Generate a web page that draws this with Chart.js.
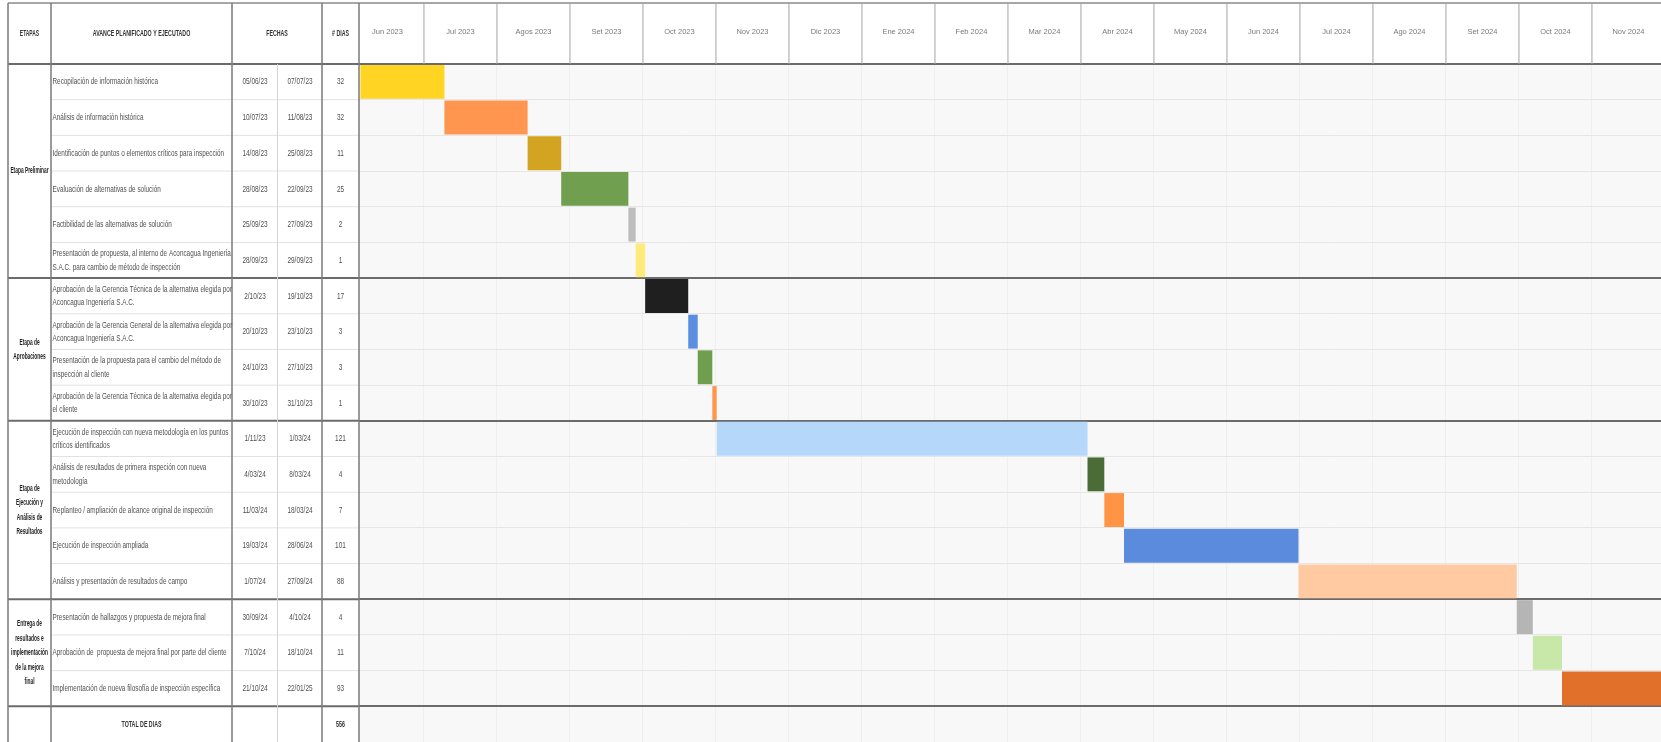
<!DOCTYPE html>
<html>
<head>
<meta charset="utf-8">
<script src="https://cdn.jsdelivr.net/npm/chart.js@4.4.1/dist/chart.umd.min.js"></script>
<style>
  html, body { margin: 0; padding: 0; background: #fff; overflow: hidden; }
</style>
</head>
<body>
<canvas id="gantt" width="1661" height="742"></canvas>
<script>
// --- DATA ---
const months = ['Jun 2023', 'Jul 2023', 'Agos 2023', 'Set 2023', 'Oct 2023', 'Nov 2023', 'Dic 2023', 'Ene 2024',
  'Feb 2024', 'Mar 2024', 'Abr 2024', 'May 2024', 'Jun 2024', 'Jul 2024', 'Ago 2024', 'Set 2024', 'Oct 2024', 'Nov 2024'];

const tasks = [
  ['Recopilación de información histórica'],
  ['Análisis de información histórica'],
  ['Identificación de puntos o elementos críticos para inspección'],
  ['Evaluación de alternativas de solución'],
  ['Factibilidad de las alternativas de solución'],
  ['Presentación de propuesta, al interno de Aconcagua Ingeniería', 'S.A.C. para cambio de método de inspección'],
  ['Aprobación de la Gerencia Técnica de la alternativa elegida por', 'Aconcagua Ingeniería S.A.C.'],
  ['Aprobación de la Gerencia General de la alternativa elegida por', 'Aconcagua Ingeniería S.A.C.'],
  ['Presentación de la propuesta para el cambio del método de', 'inspección al cliente'],
  ['Aprobación de la Gerencia Técnica de la alternativa elegida por', 'el cliente'],
  ['Ejecución de inspección con nueva metodología en los puntos', 'críticos identificados'],
  ['Análisis de resultados de primera inspeción con nueva', 'metodología'],
  ['Replanteo / ampliación de alcance original de inspección'],
  ['Ejecución de inspección ampliada'],
  ['Análisis y presentación de resultados de campo'],
  ['Presentación de hallazgos y propuesta de mejora final'],
  ['Aprobación de  propuesta de mejora final por parte del cliente'],
  ['Implementación de nueva filosofía de inspección específica']
];

const startDates = ['05/06/23', '10/07/23', '14/08/23', '28/08/23', '25/09/23', '28/09/23', '2/10/23', '20/10/23', '24/10/23',
  '30/10/23', '1/11/23', '4/03/24', '11/03/24', '19/03/24', '1/07/24', '30/09/24', '7/10/24', '21/10/24'];
const endDates = ['07/07/23', '11/08/23', '25/08/23', '22/09/23', '27/09/23', '29/09/23', '19/10/23', '23/10/23', '27/10/23',
  '31/10/23', '1/03/24', '8/03/24', '18/03/24', '28/06/24', '27/09/24', '4/10/24', '18/10/24', '22/01/25'];
const days = [32, 32, 11, 25, 2, 1, 17, 3, 3, 1, 121, 4, 7, 101, 88, 4, 11, 93];
const totalLabel = 'TOTAL DE DIAS';
const totalDays = 556;

// bar extent, in months counted from the start of Jun 2023 (as drawn on the sheet)
const barStart = [0.13, 1.28, 2.42, 2.88, 3.80, 3.90, 4.03, 4.62, 4.75, 4.95, 5.01, 10.09, 10.32, 10.59, 12.98, 15.97, 16.19, 16.59];
const barEnd   = [1.28, 2.42, 2.88, 3.80, 3.90, 4.03, 4.62, 4.75, 4.95, 5.01, 10.09, 10.32, 10.59, 12.98, 15.97, 16.19, 16.59, 19.7];
const barColors = ['#ffd422', '#ff9650', '#d3a322', '#70a04f', '#bdbdbd', '#ffeb7c', '#1f1f1f', '#5b8ee0', '#6f9f4e',
  '#ff9650', '#b5d8fa', '#4b6c36', '#ff9444', '#5b8bdc', '#ffc9a1', '#b5b5b5', '#c8e8a9', '#e0702a'];

const stageNames = [
  ['Etapa Preliminar'],
  ['Etapa de', 'Aprobaciones'],
  ['Etapa de', 'Ejecución y', 'Análisis de', 'Resultados'],
  ['Entrega de', 'resultados e', 'implementación', 'de la mejora', 'final']
];
const stageFirst = [0, 6, 10, 15];
const stageLast = [5, 9, 14, 17];

// --- LAYOUT HELPERS ---
const groupLines = [0, 6, 10, 15, 18];
const FONT = "'Liberation Sans', Arial, sans-serif";
const colX = { left: 8, etapa: 51, avance: 232, fMid: 277.5, fechas: 322, dias: 359 };

function txt(ctx, s, x, y, font, color, align, sx) {
  ctx.save();
  ctx.font = font;
  ctx.fillStyle = color;
  ctx.textAlign = align;
  ctx.textBaseline = 'middle';
  ctx.translate(x, y);
  ctx.scale(sx, 1);
  ctx.fillText(s, 0, 0);
  ctx.restore();
}

function line(ctx, x1, y1, x2, y2, color, w) {
  ctx.save();
  ctx.strokeStyle = color;
  ctx.lineWidth = w;
  ctx.beginPath();
  ctx.moveTo(x1, y1);
  ctx.lineTo(x2, y2);
  ctx.stroke();
  ctx.restore();
}

const tablePlugin = {
  id: 'tablePlugin',
  beforeDraw(chart) {
    const { ctx, chartArea: a } = chart;
    ctx.save();
    ctx.fillStyle = '#f8f8f8';
    ctx.fillRect(a.left, a.top, a.right - a.left, a.bottom - a.top);
    ctx.restore();
  },
  afterDraw(chart) {
    const { ctx, chartArea: a } = chart;
    const y = chart.scales.y, x = chart.scales.x;
    const rowH = y.getPixelForValue(1) - y.getPixelForValue(0);
    const rowTop = i => y.getPixelForValue(i) - rowH / 2;
    const top = x.top, bottom = chart.height;

    // row separators in the table
    for (let i = 1; i <= tasks.length; i++) {
      if (groupLines.includes(i)) continue;
      line(ctx, colX.etapa, rowTop(i), colX.dias, rowTop(i), '#e2e2e2', 1);
    }
    groupLines.forEach(i => line(ctx, colX.left, rowTop(i), colX.dias, rowTop(i), '#6b6b6b', 2));

    // header frame
    line(ctx, colX.left, top, chart.width, top, '#8a8a8a', 1.5);
    for (let k = 1; k < months.length; k++) {
      const px = x.getPixelForValue(k);
      line(ctx, px, top, px, a.top, '#a3a3a3', 1);
    }

    // table columns
    line(ctx, colX.fMid, a.top, colX.fMid, bottom, '#d4d4d4', 1);
    [colX.left, colX.etapa, colX.avance, colX.fechas, colX.dias].forEach(cx => line(ctx, cx, top, cx, bottom, '#7a7a7a', 1.5));

    // header texts
    const hy = (top + a.top) / 2;
    const hFont = 'bold 8.5px ' + FONT;
    txt(ctx, 'ETAPAS', (colX.left + colX.etapa) / 2, hy, hFont, '#333', 'center', 0.58);
    txt(ctx, 'AVANCE PLANIFICADO Y EJECUTADO', (colX.etapa + colX.avance) / 2, hy, hFont, '#333', 'center', 0.62);
    txt(ctx, 'FECHAS', (colX.avance + colX.fechas) / 2, hy, hFont, '#333', 'center', 0.62);
    txt(ctx, '# DIAS', (colX.fechas + colX.dias) / 2, hy, hFont, '#333', 'center', 0.62);

    // rows
    const rFont = '9.5px ' + FONT;
    tasks.forEach((t, i) => {
      const cy = y.getPixelForValue(i);
      t.forEach((s, j) => {
        const ly = cy + (j - (t.length - 1) / 2) * 13.3;
        txt(ctx, s, colX.etapa + 1.5, ly, rFont, '#505050', 'left', 0.67);
      });
      txt(ctx, startDates[i], 255, cy, rFont, '#505050', 'center', 0.68);
      txt(ctx, endDates[i], 300, cy, rFont, '#505050', 'center', 0.68);
      txt(ctx, String(days[i]), (colX.fechas + colX.dias) / 2, cy, rFont, '#505050', 'center', 0.68);
    });

    // total row
    const ty = y.getPixelForValue(tasks.length);
    txt(ctx, totalLabel, (colX.etapa + colX.avance) / 2, ty, hFont, '#333', 'center', 0.62);
    txt(ctx, String(totalDays), (colX.fechas + colX.dias) / 2, ty, hFont, '#333', 'center', 0.62);

    // stage (merged) cells
    const sFont = 'bold 8.5px ' + FONT;
    stageNames.forEach((lines, g) => {
      const mid = (rowTop(stageFirst[g]) + rowTop(stageLast[g] + 1)) / 2;
      lines.forEach((s, j) => {
        const ly = mid + (j - (lines.length - 1) / 2) * 14.5;
        txt(ctx, s, (colX.left + colX.etapa) / 2, ly, sFont, '#1e1e1e', 'center', 0.57);
      });
    });
  }
};

// --- CHART ---
const rowLabels = tasks.map(t => t.join(' ')).concat([totalLabel]);

new Chart(document.getElementById('gantt'), {
  type: 'bar',
  data: {
    labels: rowLabels,
    datasets: [{
      data: barStart.map((s, i) => [s, barEnd[i]]),
      backgroundColor: barColors,
      borderWidth: 0,
      barPercentage: 1,
      categoryPercentage: 0.95
    }]
  },
  options: {
    indexAxis: 'y',
    responsive: false,
    animation: false,
    layout: { padding: { left: 8, top: 3, right: 0, bottom: 0 } },
    plugins: { legend: { display: false }, tooltip: { enabled: false } },
    scales: {
      x: {
        type: 'linear', position: 'top', min: 0.11, max: 17.946,
        afterBuildTicks: s => { s.ticks = months.map((_, i) => ({ value: i + 1 })); },
        afterFit: s => { s.height = 61; s.paddingLeft = 0; s.paddingRight = 0; },
        ticks: {
          autoSkip: false, maxRotation: 0, labelOffset: -36.5, padding: 28,
          color: '#7a7a7a', font: { family: FONT, size: 7.5 },
          callback: (v, i) => months[i]
        },
        grid: { color: '#efefef', drawTicks: false },
        border: { display: false }
      },
      y: {
        type: 'category', position: 'left',
        afterFit: s => { s.width = 351; },
        ticks: { display: false },
        grid: {
          drawTicks: false,
          color: c => groupLines.includes(c.index) ? '#6b6b6b' : '#e6e6e6',
          lineWidth: c => groupLines.includes(c.index) ? 2 : 1
        },
        border: { display: false }
      }
    }
  },
  plugins: [tablePlugin]
});
</script>
</body>
</html>
